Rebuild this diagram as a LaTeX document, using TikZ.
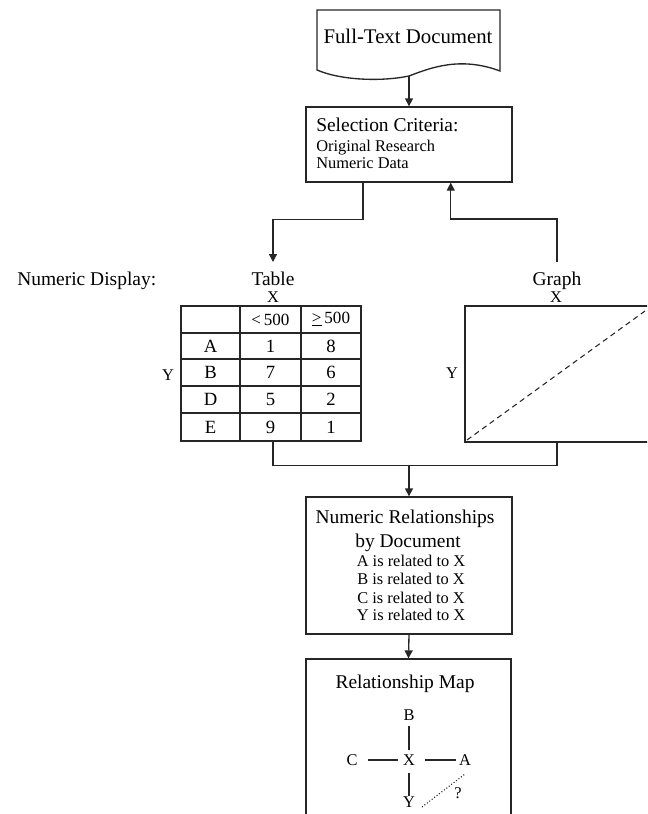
\documentclass[tikz,border=0pt]{standalone}
\usepackage{fontspec}
\setmainfont{Liberation Serif}
\usetikzlibrary{arrows.meta,calc}
\begin{document}
\begin{tikzpicture}[x=0.75pt,y=-0.75pt,
 line/.style={draw=black!85, line width=1pt},
 arr/.style={line, -{Triangle[width=6pt,length=6pt]}},
 big/.style={font=\fontsize{14.6}{17}\selectfont, inner sep=0pt},
 small/.style={font=\fontsize{12.3}{14}\selectfont, inner sep=0pt},
 cell/.style={font=\fontsize{14}{16}\selectfont, inner sep=0pt},
 hcell/.style={font=\fontsize{12.8}{14}\selectfont, inner sep=0pt},
 box/.style={line, rectangle, inner sep=0pt},
 thick line/.style={draw=black!85, line width=1.7pt},
]
\useasboundingbox (0,0) rectangle (647,814);
\clip (0,0) rectangle (647,814);

% Full-text document
\draw[line] (317,70) -- (317,10) -- (500,10) -- (500,71)
  .. controls (460,56) and (430,68) .. (409,76)
  .. controls (380,82) and (340,80) .. (317,70) -- cycle;
\node[big, font=\fontsize{15.6}{18}\selectfont] (doc) at (408,36) {Full-Text Document};
\coordinate (docb) at (409,76);

% Selection criteria
\node[box, minimum width=154.5pt, minimum height=56.25pt] (sel) at (409,144.5) {};
\node[big, anchor=base west] (selt) at (316,131) {Selection Criteria:};
\node[small, anchor=base west] (sel1) at (316,151) {Original Research};
\node[small, anchor=base west] (sel2) at (316,168) {Numeric Data};
\draw[arr] (docb) -- (sel.north);

% Numeric display labels
\node[big, anchor=base west] (nd) at (17,285) {Numeric Display:};
\node[big, anchor=base] (tabt) at (273,285) {Table};
\node[big, anchor=base] (grt) at (557,285) {Graph};
\coordinate (tabin) at (273,262);
\coordinate (grin) at (557,262);
\node[small] (tx) at (273,297) {X};
\node[small] (gx) at (556,297) {X};
\node[small] (ty) at (168,375) {Y};
\node[small] (gy) at (452,373) {Y};

\draw[arr] ([xshift=-34.5pt]sel.south) -- ++(0,37) -| (tabin);
\draw[arr] (grin) -- ++(0,-43) -| ([xshift=31.3pt]sel.south);

% Table
\node[box, minimum width=135pt, minimum height=101.25pt] (tab) at (271,373.5) {};
\draw[line] (301,306) -- (301,441);
\draw[thick line] (240,306) -- (240,441);
\draw[line] (181,333) -- (361,333);
\draw[thick line] (181,359) -- (361,359);
\draw[line] (181,386) -- (361,386);
\draw[line] (181,413) -- (361,413);
\node[hcell] (h2) at (270.5,319.5) {<\,500};
\node[hcell] (h3) at (331,319.5) {\underline{>}\,500};
\node[cell] (rA) at (210.5,346) {A};
\node[cell] (rB) at (210.5,372.5) {B};
\node[cell] (rD) at (210.5,399.5) {D};
\node[cell] (rE) at (210.5,427) {E};
\node[cell] (a1) at (270.5,346) {1};
\node[cell] (b1) at (270.5,372.5) {7};
\node[cell] (d1) at (270.5,399.5) {5};
\node[cell] (e1) at (270.5,427) {9};
\node[cell] (a2) at (331,346) {8};
\node[cell] (b2) at (331,372.5) {6};
\node[cell] (d2) at (331,399.5) {2};
\node[cell] (e2) at (331,427) {1};

% Graph
\node[box, minimum width=150pt, minimum height=102pt] (gr) at (565,374) {};
\draw[draw=black!85, line width=0.8pt, dash pattern=on 4pt off 3pt] (467,440) -- (645,311);

% Numeric relationships
\node[box, minimum width=154.5pt, minimum height=102.75pt] (num) at (409,565.5) {};
\node[big, anchor=base] (n1) at (405,523) {Numeric Relationships};
\node[big, anchor=base] (n2) at (408,547) {by Document};
\node[small, anchor=base] (n3) at (411,566) {A is related to X};
\node[small, anchor=base] (n4) at (411,584) {B is related to X};
\node[small, anchor=base] (n5) at (411,603) {C is related to X};
\node[small, anchor=base] (n6) at (411,620) {Y is related to X};

% Merge
\coordinate (j) at (409,465);
\draw[line] ([xshift=1.5pt]tab.south) -- ++(0,24) -| (gr.south -| grt);
\draw[arr] (j) -- (num.north);

% Relationship map
\node[box, minimum width=153.75pt, minimum height=135.75pt] (map) at (408.5,749.5) {};
\draw[arr] (num.south) -- (map.north);
\node[big, anchor=base] (mapt) at (405,688) {Relationship Map};
\node[small] (mB) at (409,715) {B};
\node[small] (mX) at (409,760) {X};
\node[small] (mC) at (352,760) {C};
\node[small] (mA) at (465,760) {A};
\node[small] (mY) at (409,802) {Y};
\node[small] (mQ) at (458,793) {?};
\draw[line, shorten <=4.3pt, shorten >=3.5pt] (mB) -- (mX);
\draw[line, shorten <=7.9pt, shorten >=3.7pt] (mC) -- (mX);
\draw[line, shorten <=7.5pt, shorten >=1.9pt] (mX) -- (mA);
\draw[line, shorten <=5.8pt, shorten >=0pt] (mX) -- (mY);
\draw[draw=black!85, line width=0.8pt, dash pattern=on 0.8pt off 1.5pt] ($(mY)+(13,5)$) -- ($(mA)+(0,14)$);
\end{tikzpicture}
\end{document}
